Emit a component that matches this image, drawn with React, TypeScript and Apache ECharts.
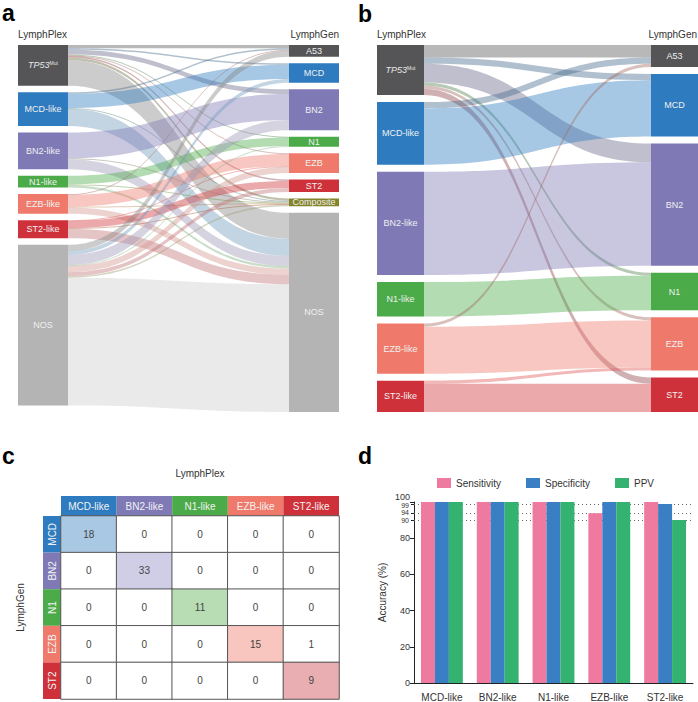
import React, { useEffect, useRef } from 'react';
import * as echarts from 'echarts';

const FONT = '"Liberation Sans", "Helvetica Neue", Arial, sans-serif';

// ---------------- Panel a: LymphPlex (all) -> LymphGen (all) ----------------
const plexNodesA = ['TP53', 'MCD-like', 'BN2-like', 'N1-like', 'EZB-like', 'ST2-like', 'NOS'];
const genNodesA = ['A53', 'MCD', 'BN2', 'N1', 'EZB', 'ST2', 'Composite', 'NOS'];
// rows: plexNodesA, cols: genNodesA
const flowsA = [
  [4, 2, 6, 1, 1, 2, 3, 33],
  [2, 18, 0, 0, 0, 0, 1, 22],
  [0, 0, 33, 0, 0, 0, 1, 13],
  [0, 0, 0, 11, 0, 0, 1, 3],
  [1, 0, 0, 0, 15, 0, 1, 8],
  [0, 0, 0, 0, 1, 9, 1, 12],
  [8, 5, 13, 1, 8, 5, 2, 163],
];

// ---------------- Panel b: classified cases only ----------------
const plexNodesB = ['TP53', 'MCD-like', 'BN2-like', 'N1-like', 'EZB-like', 'ST2-like'];
const genNodesB = ['A53', 'MCD', 'BN2', 'N1', 'EZB', 'ST2'];
const flowsB = [
  [4, 2, 6, 1, 1, 2],
  [2, 18, 0, 0, 0, 0],
  [0, 0, 33, 0, 0, 0],
  [0, 0, 0, 11, 0, 0],
  [1, 0, 0, 0, 15, 0],
  [0, 0, 0, 0, 1, 9],
];

// ---------------- Panel c: confusion matrix ----------------
const plexClasses = ['MCD-like', 'BN2-like', 'N1-like', 'EZB-like', 'ST2-like'];
const genClasses = ['MCD', 'BN2', 'N1', 'EZB', 'ST2'];
// rows: genClasses (LymphGen), cols: plexClasses (LymphPlex)
const confusion = [
  [18, 0, 0, 0, 0],
  [0, 33, 0, 0, 0],
  [0, 0, 11, 0, 0],
  [0, 0, 0, 15, 1],
  [0, 0, 0, 0, 9],
];

// ---------------- Panel d: accuracy ----------------
const metricNames = ['Sensitivity', 'Specificity', 'PPV'];
const sensitivity = [100, 100, 100, 93.8, 100];
const specificity = [100, 100, 100, 100, 98.9];
const ppv = [100, 100, 100, 100, 90];
const extraTicks = [90, 94, 99];

const classColor: Record<string, string> = {
  TP53: '#555557',
  A53: '#555557',
  MCD: '#2e7bbf',
  BN2: '#7f79b6',
  N1: '#4aab48',
  EZB: '#ef7a6b',
  ST2: '#cf313a',
  Composite: '#83832a',
  NOS: '#b4b4b4',
};
const lightColor: Record<string, string> = {
  MCD: '#a8c8e4',
  BN2: '#d0cde6',
  N1: '#b8dcb4',
  EZB: '#f8c6be',
  ST2: '#e9aeb2',
};
const metricColors = ['#ee7aa0', '#3a7ec3', '#34b270'];

const keyOf = (n: string) => n.replace('-like', '');

function hexToRgb(h: string) {
  const v = parseInt(h.slice(1), 16);
  return [(v >> 16) & 255, (v >> 8) & 255, v & 255];
}
function mix(a: string, b: string, t: number) {
  const A = hexToRgb(a);
  const B = hexToRgb(b);
  const c = A.map((x, i) => Math.round(x * (1 - t) + B[i] * t));
  return '#' + c.map((x) => x.toString(16).padStart(2, '0')).join('');
}

function buildSankey(plex: string[], gen: string[], flows: number[][]) {
  const nodes = [
    ...plex.map((n) => ({ name: 'L:' + n, itemStyle: { color: classColor[keyOf(n)] } })),
    ...gen.map((n) => ({ name: 'R:' + n, itemStyle: { color: classColor[n] } })),
  ];
  const links: any[] = [];
  flows.forEach((row, i) => {
    row.forEach((v, j) => {
      if (v > 0) {
        const s = keyOf(plex[i]);
        const t = gen[j];
        const bothNos = s === 'NOS' && t === 'NOS';
        links.push({
          source: 'L:' + plex[i],
          target: 'R:' + gen[j],
          value: v,
          lineStyle: { color: mix(classColor[s], classColor[t], 0.5), opacity: bothNos ? 0.28 : 0.42 },
        });
      }
    });
  });
  return { nodes, links };
}

const nodeLabel = {
  show: true,
  position: 'inside',
  color: '#f0f0f0',
  fontSize: 9,
  fontFamily: FONT,
  formatter: (p: any) => {
    const n = String(p.name).slice(2);
    if (n === 'TP53') return '{i|TP53}{s|Mut}';
    return n;
  },
  rich: {
    i: { fontStyle: 'italic', fontSize: 9, color: '#e8e8e8', fontFamily: FONT },
    s: { fontSize: 5, color: '#e8e8e8', verticalAlign: 'top', fontFamily: FONT },
  },
};

export default function App() {
  const ref = useRef<HTMLDivElement>(null);
  useEffect(() => {
    if (!ref.current) return;
    const chart = echarts.init(ref.current, undefined, { renderer: 'svg' });
    const sa = buildSankey(plexNodesA, genNodesA, flowsA);
    const sb = buildSankey(plexNodesB, genNodesB, flowsB);

    // colour index: 0 = white, 1..5 = diagonal class colours
    const heatData: any[] = [];
    confusion.forEach((row, r) => {
      row.forEach((v, c) => {
        heatData.push([c, r, v, r === c ? r + 1 : 0]);
      });
    });
    const pieces = [{ value: 0, color: '#ffffff' }].concat(
      genClasses.map((g, i) => ({ value: i + 1, color: lightColor[g] }))
    );

    const headerRich: Record<string, any> = {};
    plexClasses.forEach((c, i) => {
      headerRich['h' + i] = {
        backgroundColor: classColor[keyOf(c)],
        width: 55.6,
        height: 20,
        lineHeight: 20,
        align: 'center',
        color: '#f2f2f2',
        fontSize: 10,
        fontFamily: FONT,
      };
    });
    const rowRich: Record<string, any> = {};
    genClasses.forEach((c, i) => {
      rowRich['r' + i] = {
        backgroundColor: classColor[c],
        width: 36.6,
        height: 18,
        lineHeight: 18,
        align: 'center',
        color: '#f2f2f2',
        fontSize: 10,
        fontFamily: FONT,
      };
    });

    const letter = (t: string, x: number, y: number) => ({
      type: 'text',
      x,
      y,
      style: { text: t, fill: '#000', font: 'bold 23px ' + FONT, align: 'left', verticalAlign: 'middle' },
    });
    const head = (t: string, x: number, y: number, align: string) => ({
      type: 'text',
      x,
      y,
      style: { text: t, fill: '#333', font: '10px ' + FONT, align, verticalAlign: 'middle' },
    });

    const barSeries = [sensitivity, specificity, ppv].map((d, k) => ({
      type: 'bar',
      name: metricNames[k],
      xAxisIndex: 1,
      yAxisIndex: 1,
      data: d,
      barGap: '0%',
      barCategoryGap: '25%',
      z: 3,
      itemStyle: { color: metricColors[k] },
      ...(k === 0
        ? {
            markLine: {
              silent: true,
              symbol: 'none',
              z: 1,
              label: { show: false },
              lineStyle: { type: [1, 3], color: '#666', width: 1 },
              data: extraTicks.map((v) => ({ yAxis: v })),
            },
          }
        : {}),
    }));

    const option: any = {
      animation: false,
      textStyle: { fontFamily: FONT },
      graphic: [
        letter('a', 2, 12.5),
        letter('b', 358, 13.5),
        letter('c', 2, 456),
        letter('d', 358, 456),
        head('LymphPlex', 18, 34, 'left'),
        head('LymphGen', 339, 34, 'right'),
        head('LymphPlex', 377, 34, 'left'),
        head('LymphGen', 697, 34, 'right'),
      ],
      visualMap: {
        type: 'piecewise',
        show: false,
        seriesIndex: 2,
        dimension: 3,
        pieces,
      },
      legend: {
        data: metricNames,
        left: 432,
        top: 473,
        icon: 'rect',
        itemWidth: 14,
        itemHeight: 10,
        itemGap: 25,
        textStyle: { fontSize: 10, color: '#333', fontFamily: FONT },
      },
      grid: [
        { left: 61, top: 516, width: 278, height: 183 },
        { left: 414, top: 502, width: 279, height: 181 },
      ],
      xAxis: [
        {
          gridIndex: 0,
          type: 'category',
          data: plexClasses,
          position: 'top',
          name: 'LymphPlex',
          nameLocation: 'middle',
          nameGap: 38,
          nameTextStyle: { fontSize: 10, color: '#333' },
          axisLine: { show: false },
          axisTick: { show: false },
          splitLine: { show: false },
          axisLabel: {
            margin: 0,
            interval: 0,
            formatter: (v: string, i: number) => `{h${i}|${v}}`,
            rich: headerRich,
          },
        },
        {
          gridIndex: 1,
          type: 'category',
          data: plexClasses,
          axisLine: { lineStyle: { color: '#222' } },
          axisTick: { show: false },
          axisLabel: { fontSize: 10, color: '#333', margin: 9, interval: 0 },
        },
      ],
      yAxis: [
        {
          gridIndex: 0,
          type: 'category',
          data: genClasses,
          inverse: true,
          name: 'LymphGen',
          nameLocation: 'middle',
          nameGap: 36,
          nameRotate: 90,
          nameTextStyle: { fontSize: 10, color: '#333' },
          axisLine: { show: false },
          axisTick: { show: false },
          splitLine: { show: false },
          axisLabel: {
            margin: 0,
            rotate: 90,
            interval: 0,
            formatter: (v: string, i: number) => `{r${i}|${v}}`,
            rich: rowRich,
          },
        },
        {
          gridIndex: 1,
          type: 'value',
          position: 'left',
          min: 0,
          max: 100,
          interval: 20,
          name: 'Accuracy (%)',
          nameLocation: 'middle',
          nameGap: 27,
          nameTextStyle: { fontSize: 10, color: '#333' },
          axisLine: { show: true, lineStyle: { color: '#222' } },
          axisTick: { show: true, length: 4, lineStyle: { color: '#222' } },
          axisLabel: {
            fontSize: 9,
            color: '#333',
            margin: 4,
            formatter: (v: number) => (v === 100 ? '{t|100}' : String(v)),
            rich: { t: { fontSize: 9, color: '#333', padding: [0, 0, 10, 0] } },
          },
          splitLine: { show: false },
        },
        {
          gridIndex: 1,
          type: 'value',
          position: 'left',
          offset: 0,
          min: 0,
          max: 100,
          axisLine: { show: false },
          axisTick: { show: true, length: 3, customValues: extraTicks, lineStyle: { color: '#222' } },
          axisLabel: {
            fontSize: 7,
            color: '#333',
            margin: 5,
            customValues: extraTicks,
            formatter: (v: number) => (v === 99 ? '{d|99}' : String(v)),
            rich: { d: { fontSize: 7, color: '#333', padding: [3, 0, 0, 0] } },
          },
          splitLine: { show: false },
        },
      ],
      series: [
        {
          type: 'sankey',
          left: 18,
          top: 45,
          width: 321,
          height: 367,
          nodeWidth: 50,
          nodeGap: 6.5,
          layoutIterations: 0,
          nodeAlign: 'justify',
          draggable: false,
          emphasis: { disabled: true },
          itemStyle: { borderWidth: 0 },
          lineStyle: { curveness: 0.5 },
          label: nodeLabel,
          data: sa.nodes,
          links: sa.links,
        },
        {
          type: 'sankey',
          left: 377,
          top: 45,
          width: 321,
          height: 367,
          nodeWidth: 47,
          nodeGap: 7,
          layoutIterations: 0,
          nodeAlign: 'justify',
          draggable: false,
          emphasis: { disabled: true },
          itemStyle: { borderWidth: 0 },
          lineStyle: { curveness: 0.5 },
          label: nodeLabel,
          data: sb.nodes,
          links: sb.links,
        },
        {
          type: 'heatmap',
          xAxisIndex: 0,
          yAxisIndex: 0,
          data: heatData,
          itemStyle: { borderColor: '#555', borderWidth: 1 },
          label: {
            show: true,
            fontSize: 10,
            color: '#444',
            formatter: (p: any) => String(p.value[2]),
          },
          emphasis: { disabled: true },
        },
        ...barSeries,
      ],
    };
    chart.setOption(option);
    return () => chart.dispose();
  }, []);
  return (
    <div
      ref={ref}
      style={{ position: 'absolute', left: 0, top: 0, width: 698, height: 702, background: '#fff' }}
    />
  );
}
